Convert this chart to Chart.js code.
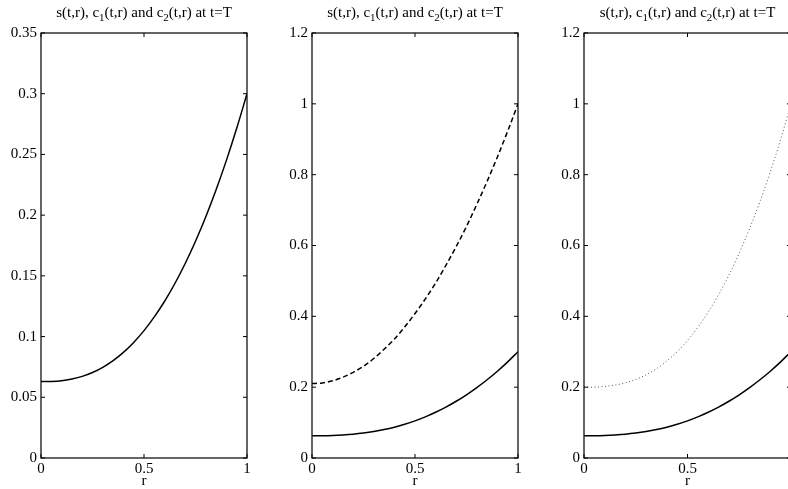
<!DOCTYPE html>
<html>
<head>
<meta charset="utf-8">
<script src="https://cdn.jsdelivr.net/npm/chart.js@4.4.0/dist/chart.umd.min.js"></script>
<style>
  html, body { margin: 0; padding: 0; background: #fff; }
  #wrap { position: relative; width: 788px; height: 489px; overflow: hidden; }
  #wrap canvas { position: absolute; left: 0; top: 0; }
</style>
</head>
<body>
<div id="wrap">
  <canvas id="c1" width="800" height="489"></canvas>
  <canvas id="c2" width="800" height="489"></canvas>
  <canvas id="c3" width="800" height="489"></canvas>
</div>
<script>
// ========== DATOS ==========
const rValues  = [0, 0.05, 0.1, 0.15, 0.2, 0.25, 0.3, 0.35, 0.4, 0.45, 0.5,
                  0.55, 0.6, 0.65, 0.7, 0.75, 0.8, 0.85, 0.9, 0.95, 1];
const sValues  = [0.0630, 0.0631, 0.0637, 0.0651, 0.0672, 0.0704, 0.0747, 0.0802, 0.0870, 0.0952, 0.1049,
                  0.1162, 0.1291, 0.1437, 0.1602, 0.1785, 0.1987, 0.2209, 0.2451, 0.2715, 0.3000];
const c1Values = [0.210, 0.212, 0.218, 0.228, 0.242, 0.259, 0.281, 0.307, 0.336, 0.370, 0.408,
                  0.449, 0.494, 0.544, 0.597, 0.654, 0.716, 0.781, 0.850, 0.923, 1.000];
const c2Values = [0.200, 0.200, 0.202, 0.206, 0.212, 0.222, 0.235, 0.252, 0.274, 0.300, 0.332,
                  0.369, 0.412, 0.461, 0.516, 0.579, 0.648, 0.724, 0.808, 0.900, 1.000];

const xTicks  = [0, 0.5, 1];
const yTicksS = [0, 0.05, 0.1, 0.15, 0.2, 0.25, 0.3, 0.35];
const yTicksC = [0, 0.2, 0.4, 0.6, 0.8, 1, 1.2];

// titulo con subindices: [texto, esSubindice]
const titleParts = [['s(t,r), c', false], ['1', true], ['(t,r) and c', false], ['2', true], ['(t,r) at t=T', false]];
const xLabel = 'r';

const FONT = '"Liberation Serif", "DejaVu Serif", serif';
const TOP = 33, BOTTOM = 458, YAXIS_W = 40, CANVAS_W = 810;

function puntos(vals) {
    return rValues.map((r, i) => ({ x: r, y: vals[i] }));
}

// ========== PLUGIN: caja estilo Matlab + titulo + etiqueta x ==========
const cajaMatlab = {
    id: 'cajaMatlab',
    afterDraw(chart) {
        const ctx = chart.ctx;
        const a = chart.chartArea;
        const xs = chart.scales.x, ys = chart.scales.y;
        const tl = 4;
        ctx.save();
        ctx.strokeStyle = '#000';
        ctx.lineWidth = 1.2;
        ctx.strokeRect(a.left, a.top, a.right - a.left, a.bottom - a.top);
        ctx.lineWidth = 1;
        ctx.beginPath();
        xTicks.forEach(v => {
            const px = xs.getPixelForValue(v);
            ctx.moveTo(px, a.bottom); ctx.lineTo(px, a.bottom - tl);
            ctx.moveTo(px, a.top); ctx.lineTo(px, a.top + tl);
        });
        ys.ticks.forEach(t => {
            const py = ys.getPixelForValue(t.value);
            ctx.moveTo(a.left, py); ctx.lineTo(a.left + tl, py);
            ctx.moveTo(a.right, py); ctx.lineTo(a.right - tl, py);
        });
        ctx.stroke();

        // titulo
        const mainF = '15px ' + FONT, subF = '11px ' + FONT;
        let total = 0;
        titleParts.forEach(([t, sub]) => { ctx.font = sub ? subF : mainF; total += ctx.measureText(t).width; });
        let x = (a.left + a.right) / 2 - total / 2;
        ctx.fillStyle = '#000';
        ctx.textBaseline = 'alphabetic';
        ctx.textAlign = 'left';
        titleParts.forEach(([t, sub]) => {
            ctx.font = sub ? subF : mainF;
            ctx.fillText(t, x, sub ? 21 : 17);
            x += ctx.measureText(t).width;
        });

        // etiqueta del eje x
        ctx.font = '15px ' + FONT;
        ctx.textAlign = 'center';
        ctx.textBaseline = 'middle';
        ctx.fillText(xLabel, (a.left + a.right) / 2, 481);
        ctx.restore();
    }
};

// ========== PANELES ==========
const paneles = [
    { id: 'c1', left: 41,  right: 247, yMax: 0.35, yTicks: yTicksS,
      series: [{ data: sValues, dash: [], color: '#000', width: 1.5 }] },
    { id: 'c2', left: 312, right: 518, yMax: 1.2, yTicks: yTicksC,
      series: [{ data: c1Values, dash: [5, 3], color: '#000', width: 1.5 },
               { data: sValues, dash: [], color: '#000', width: 1.5 }] },
    { id: 'c3', left: 584, right: 791, yMax: 1.2, yTicks: yTicksC,
      series: [{ data: c2Values, dash: [1, 2.5], color: '#555', width: 1 },
               { data: sValues, dash: [], color: '#000', width: 1.5 }] }
];

paneles.forEach(p => {
    const cv = document.getElementById(p.id);
    cv.width = CANVAS_W;
    const ctx = cv.getContext('2d');
    new Chart(ctx, {
        type: 'line',
        data: {
            datasets: p.series.map(s => ({
                data: puntos(s.data),
                borderColor: s.color,
                borderWidth: s.width,
                borderDash: s.dash,
                pointRadius: 0,
                fill: false,
                cubicInterpolationMode: 'monotone'
            }))
        },
        options: {
            responsive: false,
            animation: false,
            layout: {
                padding: { left: p.left - YAXIS_W, right: CANVAS_W - p.right, top: TOP, bottom: 0 }
            },
            plugins: { legend: { display: false }, tooltip: { enabled: false } },
            scales: {
                x: {
                    type: 'linear',
                    min: 0, max: 1,
                    grid: { display: false, drawTicks: false, tickLength: 0 },
                    border: { display: false },
                    afterBuildTicks: s => { s.ticks = xTicks.map(v => ({ value: v })); },
                    afterFit: s => { s.height = 489 - BOTTOM; },
                    ticks: {
                        padding: 2,
                        color: '#000',
                        font: { family: FONT, size: 15 },
                        maxRotation: 0,
                        callback: v => String(v)
                    }
                },
                y: {
                    min: 0, max: p.yMax,
                    grid: { display: false, drawTicks: false, tickLength: 0 },
                    border: { display: false },
                    afterBuildTicks: s => { s.ticks = p.yTicks.map(v => ({ value: v })); },
                    afterFit: s => { s.width = YAXIS_W; },
                    ticks: {
                        padding: 4,
                        color: '#000',
                        font: { family: FONT, size: 15 },
                        callback: v => String(+v.toFixed(2))
                    }
                }
            }
        },
        plugins: [cajaMatlab]
    });
});
</script>
</body>
</html>
